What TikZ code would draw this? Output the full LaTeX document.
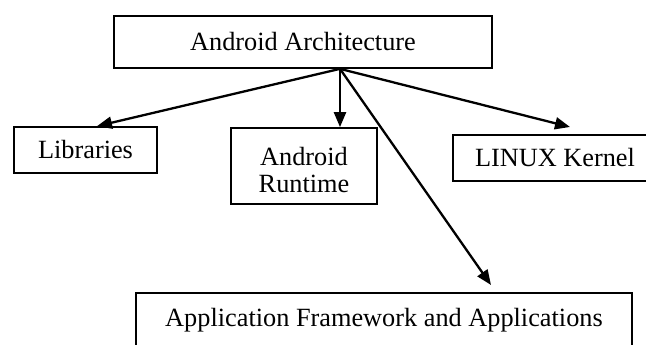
\documentclass[tikz,border=0pt]{standalone}
\usepackage{fontspec}
\setmainfont{Liberation Serif}
\usetikzlibrary{arrows.meta}
\begin{document}
\begin{tikzpicture}[x=1pt,y=-1pt,
  txt/.style={inner sep=0pt,align=center,font=\fontsize{26.3}{27}\selectfont},
  box/.style={txt,draw,line width=1.7pt},
  conn/.style={line width=2.3pt,-{Triangle[length=15pt,width=12pt]}}]
\useasboundingbox (0,0) rectangle (646,345);
\clip (0,0) rectangle (646,345);
\node[box,minimum width=378pt,minimum height=52pt] (top) at (303,42) {Android Architecture};
\node[box,minimum width=143pt,minimum height=46pt] (lib) at (85.5,150) {Libraries};
\node[box,minimum width=146pt,minimum height=76pt] (rt) at (304,166) {};
\node[txt] (rtl) at (304,170) {Android\\Runtime};
\node[box,minimum width=204pt,minimum height=46pt] (lk) at (555,158) {LINUX Kernel};
\node[box,minimum width=496pt,minimum height=54pt] (app) at (384,320) {Application Framework and Applications};
\coordinate (s) at (top.south -| 340,0);
\coordinate (tl) at (lib.north -| 97,0);
\coordinate (tr) at (rt.north -| 340,0);
\coordinate (tk) at (570,127);
\coordinate (ta) at (491,285);
\draw[conn] (s) -- (tl);
\draw[conn] (s) -- (tr);
\draw[conn] (s) -- (tk);
\draw[conn] (s) -- (ta);
\end{tikzpicture}
\end{document}
